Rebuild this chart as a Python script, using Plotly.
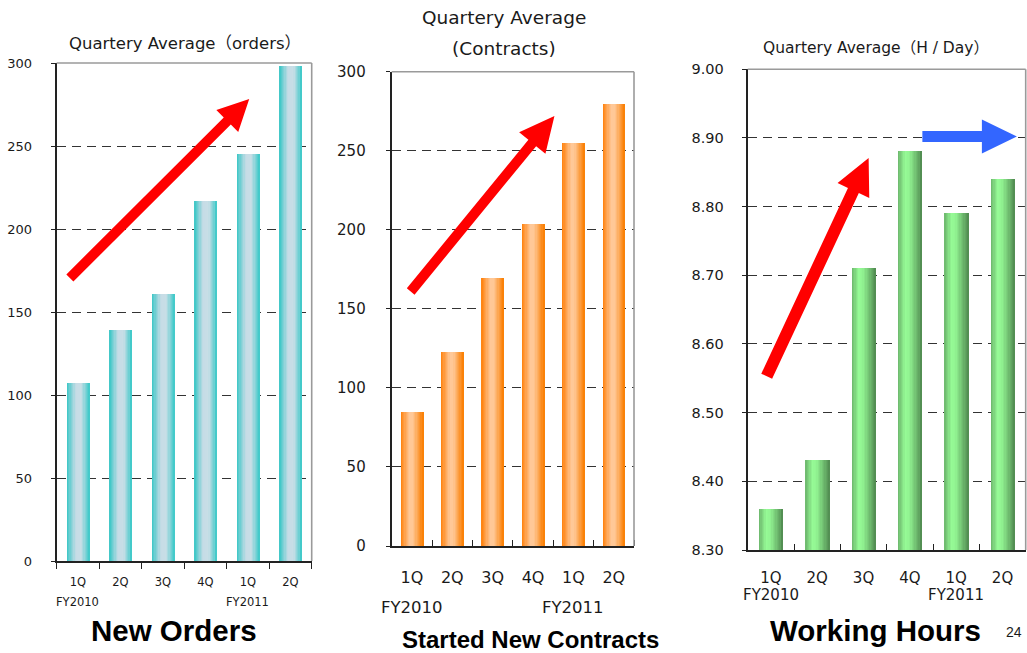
import math
import plotly.graph_objects as go

W, H = 1027, 653

# ---- data -------------------------------------------------------------
quarters = ["1Q", "2Q", "3Q", "4Q", "1Q", "2Q"]
fiscal_years = ["FY2010", "FY2011"]
fiscal_year_at = [0, 4]                      # quarter index that opens each fiscal year

new_orders = [107, 139, 161, 217, 245, 298]
new_contracts = [85, 123, 170, 204, 255, 280]
working_hours = [8.36, 8.43, 8.71, 8.88, 8.79, 8.84]

x_pos = list(range(len(quarters)))

# ---- panel layout (pixel boxes: left, right, top, bottom) ------------------
panels = [
    dict(values=new_orders, box=(56.7, 311.7, 63, 561), yrange=(0, 300), dtick=50,
         fmt="d", bar_w=0.53,
         stops=[(0, (58, 198, 198)), (0.38, (198, 220, 230)), (0.62, (200, 222, 230)), (1, (58, 200, 200))],
         ytick_size=13, ytick_standoff=16, xtick_size=11.5, xtick_standoff=9, xticks="outside",
         fy_size=11.5, fy_y=602,
         title=["Quartery Average（orders）"], title_size=16.5, title_y=[43], title_x=185,
         name="New Orders", name_size=29.5, name_x=174, name_y=630),
    dict(values=new_contracts, box=(391.7, 634.0, 71.7, 546), yrange=(0, 300), dtick=50,
         fmt="d", bar_w=0.55,
         stops=[(0, (255, 128, 10)), (0.4, (255, 200, 152)), (0.55, (255, 200, 150)), (1, (250, 125, 0))],
         ytick_size=15, ytick_standoff=17, xtick_size=16, xtick_standoff=16, xticks="inside",
         fy_size=16.5, fy_y=607,
         title=["Quartery Average", "(Contracts)"], title_size=18.5, title_y=[17, 48], title_x=504,
         name="Started New Contracts", name_size=24, name_x=530, name_y=639),
    dict(values=working_hours, box=(747.7, 1025.7, 69.3, 550), yrange=(8.30, 9.00), dtick=0.1,
         fmt=".2f", bar_w=0.52,
         stops=[(0, (108, 182, 108)), (0.3, (150, 250, 150)), (0.45, (146, 244, 146)), (1, (80, 138, 80))],
         ytick_size=14.5, ytick_standoff=15, xtick_size=15, xtick_standoff=13, xticks="inside",
         fy_size=15, fy_y=595,
         title=["Quartery Average（H / Day）"], title_size=15.5, title_y=[48], title_x=876,
         name="Working Hours", name_size=29.5, name_x=875, name_y=630),
]

# trend arrows: (panel, tail (x, y), tip (x, y), shaft px, head width px, head length px, colour)
arrows = [
    (0, (-0.19, 170.5), (4.03, 278.3), 10, 31, 31, "#FF0000"),
    (1, (-0.03, 161.0), (3.53, 272.0), 10, 34, 35, "#FF0000"),
    (2, (-0.09, 8.553), (2.11, 8.871), 12, 35, 36, "#FF0000"),
    (2, (3.27, 8.902), (5.31, 8.902), 11, 34, 35, "#3366FF"),
]

TEXT = "#1a1a1a"
TICK_FONT = "DejaVu Sans, Noto Sans CJK JP, sans-serif"
BOLD_FONT = "Liberation Sans, Arial, sans-serif"
XR = (-0.5, len(quarters) - 0.5)
N_STRIPS = 18


def colour_at(stops, t):
    for (t0, c0), (t1, c1) in zip(stops, stops[1:]):
        if t0 <= t <= t1:
            u = (t - t0) / (t1 - t0) if t1 > t0 else 0.0
            return "rgb(%d,%d,%d)" % tuple(round(a + (b - a) * u) for a, b in zip(c0, c1))
    return "rgb(%d,%d,%d)" % stops[-1][1]


def domains(box):
    l, r, t, b = box
    return [l / W, r / W], [1 - b / H, 1 - t / H]


def to_px(p, x, y):
    l, r, t, b = p["box"]
    y0, y1 = p["yrange"]
    px = l + (x - XR[0]) / (XR[1] - XR[0]) * (r - l)
    py = b - (y - y0) / (y1 - y0) * (b - t)
    return px, py


def arrow_path(p0, p1, shaft, head_w, head_l):
    dx, dy = p1[0] - p0[0], p1[1] - p0[1]
    L = math.hypot(dx, dy)
    ux, uy = dx / L, dy / L
    nx, ny = -uy, ux
    bx, by = p1[0] - ux * head_l, p1[1] - uy * head_l
    pts = [
        (p0[0] + nx * shaft / 2, p0[1] + ny * shaft / 2),
        (bx + nx * shaft / 2, by + ny * shaft / 2),
        (bx + nx * head_w / 2, by + ny * head_w / 2),
        p1,
        (bx - nx * head_w / 2, by - ny * head_w / 2),
        (bx - nx * shaft / 2, by - ny * shaft / 2),
        (p0[0] - nx * shaft / 2, p0[1] - ny * shaft / 2),
    ]
    return "M " + " L ".join("%.5f,%.5f" % (x / W, 1 - y / H) for x, y in pts) + " Z"


fig = go.Figure()
layout = dict(
    width=W, height=H, margin=dict(l=0, r=0, t=0, b=0, pad=0, autoexpand=False),
    paper_bgcolor="white", plot_bgcolor="white",
    showlegend=False, barmode="overlay", bargap=0,
    annotations=[], shapes=[],
)

for i, p in enumerate(panels):
    sfx = "" if i == 0 else str(i + 1)
    xa, ya = "x" + sfx, "y" + sfx
    dx, dy = domains(p["box"])

    # bars with a horizontal shading, built from narrow side-by-side strips
    w = p["bar_w"]
    step = w / N_STRIPS
    for k in range(N_STRIPS):
        t = (k + 0.5) / N_STRIPS
        width = step * (1.6 if k < N_STRIPS - 1 else 1.0)
        fig.add_trace(go.Bar(
            x=x_pos, y=p["values"], xaxis=xa, yaxis=ya,
            width=[width] * len(x_pos), offset=[-w / 2 + k * step] * len(x_pos),
            marker=dict(color=colour_at(p["stops"], t), line=dict(width=0)),
            hoverinfo="skip",
        ))

    layout["xaxis" + sfx] = dict(
        domain=dx, anchor=ya, range=list(XR), automargin=False,
        tickmode="array", tickvals=x_pos, ticktext=quarters, ticks="",
        ticklabelstandoff=p["xtick_standoff"],
        tickfont=dict(family=TICK_FONT, size=p["xtick_size"], color=TEXT),
        showline=True, linecolor="#222222", linewidth=2,
        showgrid=False, zeroline=False, fixedrange=True,
        minor=dict(tickmode="linear", tick0=0.5, dtick=1, ticks=p["xticks"],
                   ticklen=6, tickwidth=1.3, tickcolor="#222222", showgrid=False),
    )
    layout["yaxis" + sfx] = dict(
        domain=dy, anchor=xa, range=list(p["yrange"]), automargin=False,
        tickmode="linear", tick0=p["yrange"][0], dtick=p["dtick"], tickformat=p["fmt"],
        ticks="outside", ticklen=4, tickwidth=1.3, tickcolor="#222222",
        ticklabelstandoff=p["ytick_standoff"],
        tickfont=dict(family=TICK_FONT, size=p["ytick_size"], color=TEXT),
        showline=True, linecolor="#222222", linewidth=2,
        showgrid=True, gridcolor="#333333", gridwidth=1, griddash="9px,6px",
        zeroline=False, fixedrange=True,
    )

    # light frame on the top and right sides of the plot area
    layout["shapes"].append(dict(type="line", xref="paper", yref="paper", layer="above",
                                 x0=dx[0], x1=dx[1], y0=dy[1], y1=dy[1],
                                 line=dict(color="#9a9a9a", width=1.6)))
    layout["shapes"].append(dict(type="line", xref="paper", yref="paper", layer="above",
                                 x0=dx[1], x1=dx[1], y0=dy[0], y1=dy[1],
                                 line=dict(color="#9a9a9a", width=1.6)))

    # fiscal-year labels under the quarter labels
    for fy, at in zip(fiscal_years, fiscal_year_at):
        layout["annotations"].append(dict(
            text=fy, xref=xa, yref="paper", x=at, y=1 - p["fy_y"] / H,
            xanchor="center", yanchor="middle", showarrow=False,
            font=dict(family=TICK_FONT, size=p["fy_size"], color=TEXT)))

    # unit caption above each chart
    for line, yy in zip(p["title"], p["title_y"]):
        layout["annotations"].append(dict(
            text=line, xref="paper", yref="paper", x=p["title_x"] / W, y=1 - yy / H,
            xanchor="center", yanchor="middle", showarrow=False,
            font=dict(family=TICK_FONT, size=p["title_size"], color=TEXT)))

    # chart name below
    layout["annotations"].append(dict(
        text="<b>%s</b>" % p["name"], xref="paper", yref="paper",
        x=p["name_x"] / W, y=1 - p["name_y"] / H,
        xanchor="center", yanchor="middle", showarrow=False,
        font=dict(family=BOLD_FONT, size=p["name_size"], color="#000000")))

for pi, tail, tip, shaft, hw, hl, col in arrows:
    p = panels[pi]
    layout["shapes"].append(dict(
        type="path", xref="paper", yref="paper", layer="above",
        path=arrow_path(to_px(p, *tail), to_px(p, *tip), shaft, hw, hl),
        fillcolor=col, line=dict(width=0)))

# page number
layout["annotations"].append(dict(
    text="24", xref="paper", yref="paper", x=1014 / W, y=1 - 632 / H,
    xanchor="center", yanchor="middle", showarrow=False,
    font=dict(family=BOLD_FONT, size=14, color=TEXT)))

fig.update_layout(**layout)
fig.write_html("out.html")
